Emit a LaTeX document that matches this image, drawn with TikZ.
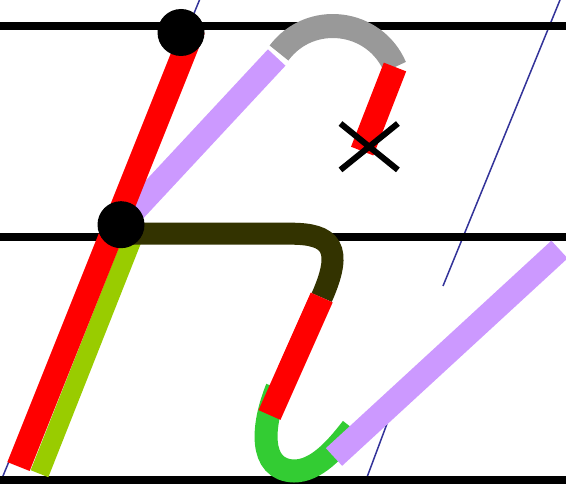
\documentclass[tikz,border=0pt]{standalone}
\usetikzlibrary{calc}
\definecolor{strokered}{HTML}{FF0000}
\definecolor{lilac}{HTML}{CC99FF}
\definecolor{arcgrey}{HTML}{999999}
\definecolor{darkolive}{HTML}{333300}
\definecolor{leafgreen}{HTML}{33CC33}
\definecolor{limegreen}{HTML}{99CC00}
\definecolor{guideblue}{HTML}{333399}
\begin{document}
\begin{tikzpicture}[x=1pt,y=-1pt,
  ruling/.style={line width=7.5pt,black},
  guideline/.style={line width=1.5pt,guideblue},
  penstroke/.style={line width=24pt},
  dot/.style={circle,fill=black,draw=none,inner sep=0pt,minimum size=47pt},
  crossline/.style={line width=6pt,black}]
\useasboundingbox (0,0) rectangle (566,484);
% guides
\coordinate (gA1) at (199.5,0);   \coordinate (gA2) at (0.5,482);
\coordinate (gB1) at (560,0);     \coordinate (gB2) at (443,286);
\coordinate (gC1) at (388,421);   \coordinate (gC2) at (364.5,484);
\draw[guideline] (gA1) -- (gA2);
\draw[guideline] (gB1) -- (gB2);
\draw[guideline] (gC1) -- (gC2);
% rulings
\coordinate (r1a) at (0,26);  \coordinate (r1b) at (566,26);
\coordinate (r2a) at (0,237); \coordinate (r2b) at (566,237);
\coordinate (r3a) at (0,480); \coordinate (r3b) at (566,480);
\draw[ruling] (r1a) -- (r1b);
\draw[ruling] (r2a) -- (r2b);
\draw[ruling] (r3a) -- (r3b);
% key points
\coordinate (lowc) at (121,224.7);
\coordinate (topc) at (181,32.5);
\coordinate (lilacTop) at (276.7,57.5);
\coordinate (arcL) at (279,53);
\coordinate (arcR) at (395,67);
\coordinate (shortEnd) at (362.2,151.1);
\coordinate (redBot) at (18.5,466.5);
\coordinate (redTop) at (193.5,29);
\coordinate (limeBot) at (39.5,473.7);
\coordinate (limeTop) at (134,235);
\coordinate (oliveL) at (121,233.7);
\coordinate (oliveM) at (291,233.7);
\coordinate (midTop) at (321.7,297.5);
\coordinate (midBot) at (269.5,415);
\coordinate (greenA) at (277,388);
\coordinate (greenB) at (294,471);
\coordinate (greenC) at (352,428);
\coordinate (lilacLow) at (334,457);
\coordinate (lilacHigh) at (559.5,249.5);
\coordinate (xc) at (369.2,146.7);
\coordinate (xa) at ($(xc)+(-28.7,-23.2)$);
\coordinate (xb) at ($(xc)+(28.7,23.2)$);
\coordinate (xd) at ($(xc)+(-28.7,23.2)$);
\coordinate (xe) at ($(xc)+(28.7,-23.2)$);
% upper lilac stroke
\draw[penstroke,lilac] (lowc) -- (lilacTop);
% left long strokes
\draw[line width=19pt,limegreen] (limeBot) -- (limeTop);
\draw[penstroke,strokered] (redBot) -- (redTop);
% olive stroke
\draw[line width=22pt,darkolive] (oliveL) -- (oliveM)
   .. controls (331,233.7) and (344,247.5) .. (midTop);
% grey arc and short red
\draw[penstroke,arcgrey] (arcL) .. controls (310.1,11.4) and (374.7,19.3) .. (arcR);
\draw[penstroke,strokered] (arcR) -- (shortEnd);
% green hook, middle red, lower lilac
\draw[line width=23pt,leafgreen] (greenA) .. controls (262,425) and (258,470) .. (greenB)
   .. controls (316,471) and (335,450) .. (greenC);
\draw[penstroke,strokered] (midTop) -- (midBot);
\draw[penstroke,lilac] (lilacLow) -- (lilacHigh);
% dots
\node[dot] (dotTop) at (topc) {};
\node[dot] (dotLow) at (lowc) {};
% cross
\draw[crossline] (xa) -- (xb);
\draw[crossline] (xd) -- (xe);
\end{tikzpicture}
\end{document}
